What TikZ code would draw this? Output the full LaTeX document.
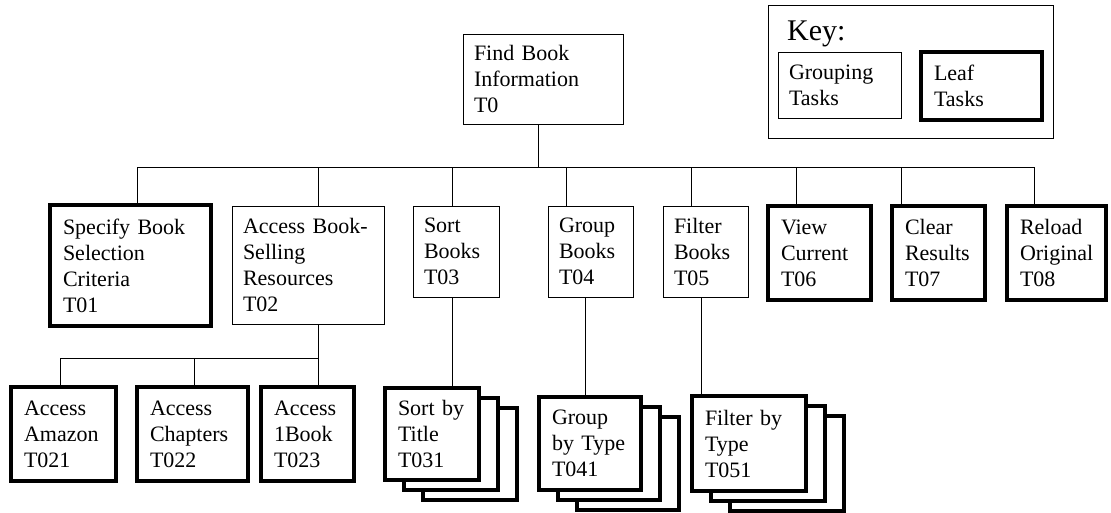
\documentclass[tikz,border=0pt]{standalone}
\usepackage{fontspec}
\setmainfont{Liberation Serif}
\hyphenpenalty=10000
\hbadness=10000
\hfuzz=2pt

\begin{document}
\begin{tikzpicture}[x=1pt,y=-1pt,
    group/.style={draw,line width=1pt,fill=white,align=left,inner xsep=11pt,inner ysep=3pt,
      font=\fontsize{22}{26}\selectfont},
    leaf/.style={group,line width=4pt,inner xsep=13pt},
    wire/.style={line width=1pt}]
  \useasboundingbox (0,0) rectangle (1111,512);

  % key
  \node[draw,line width=1pt,minimum width=285pt,minimum height=133pt] (key) at (910.5,71.5) {};
  \node[anchor=base west,inner sep=0pt,font=\fontsize{30}{36}\selectfont] (keytitle) at (787,40) {Key:};
  \node[group,text width=101pt,minimum height=66pt] (keygroup) at (839.5,85) {Grouping\\Tasks};
  \node[leaf,text width=95pt,minimum height=68pt] (keyleaf) at (981.5,86) {Leaf\\Tasks};

  % top task
  \node[group,text width=138pt,minimum height=90pt] (T0) at (543,79) {Find Book\\Information\\T0};

  % first level
  \node[leaf,text width=135pt,minimum height=121pt] (T01) at (130.5,265.5) {Specify Book\\Selection\\Criteria\\T01};
  \node[group,text width=130pt,minimum height=118pt] (T02) at (308,265) {Access Book-\\Selling\\Resources\\T02};
  \node[group,text width=64pt,minimum height=91pt] (T03) at (456,251.5) {Sort\\Books\\T03};
  \node[group,text width=63pt,minimum height=91pt] (T04) at (590.5,251.5) {Group\\Books\\T04};
  \node[group,text width=63pt,minimum height=91pt] (T05) at (705.5,251.5) {Filter\\Books\\T05};
  \node[leaf,text width=77pt,minimum height=94pt] (T06) at (819.5,253) {View\\Current\\T06};
  \node[leaf,text width=67pt,minimum height=94pt] (T07) at (938.5,253) {Clear\\Results\\T07};
  \node[leaf,text width=73pt,minimum height=94pt] (T08) at (1056.5,253) {Reload\\Original\\T08};

  % second level
  \node[leaf,text width=79pt,minimum height=94pt] (T021) at (63.5,434) {Access\\Amazon\\T021};
  \node[leaf,text width=85pt,minimum height=94pt] (T022) at (192.5,434) {Access\\Chapters\\T022};
  \node[leaf,text width=67pt,minimum height=94pt] (T023) at (307.5,434) {Access\\1Book\\T023};

  \node[leaf,text width=68pt,minimum height=92pt] (T031c) at (470,454) {};
  \node[leaf,text width=68pt,minimum height=92pt] (T031b) at (451,444) {};
  \node[leaf,text width=68pt,minimum height=92pt] (T031) at (432,434) {Sort by\\Title\\T031};

  \node[leaf,text width=76pt,minimum height=93pt] (T041c) at (628,463.5) {};
  \node[leaf,text width=76pt,minimum height=93pt] (T041b) at (609,453.5) {};
  \node[leaf,text width=76pt,minimum height=93pt] (T041) at (590,443.5) {Group\\by Type\\T041};

  \node[leaf,text width=88pt,minimum height=95pt] (T051c) at (787,463.5) {};
  \node[leaf,text width=88pt,minimum height=95pt] (T051b) at (768,453.5) {};
  \node[leaf,text width=88pt,minimum height=95pt] (T051) at (749,443.5) {Filter by\\Type\\T051};

  % tree lines
  \coordinate (s0) at (538,167);
  \coordinate (s01) at (137,167);
  \coordinate (s02) at (318,167);
  \coordinate (s03) at (452,167);
  \coordinate (s04) at (566,167);
  \coordinate (s05) at (691,167);
  \coordinate (s06) at (796,167);
  \coordinate (s07) at (901,167);
  \coordinate (s08) at (1034,167);
  \draw[wire] (s0 |- T0.south) -- (s0);
  \draw[wire] (s01) -- (s08);
  \draw[wire] (s01) -- (s01 |- T01.north);
  \draw[wire] (s02) -- (s02 |- T02.north);
  \draw[wire] (s03) -- (s03 |- T03.north);
  \draw[wire] (s04) -- (s04 |- T04.north);
  \draw[wire] (s05) -- (s05 |- T05.north);
  \draw[wire] (s06) -- (s06 |- T06.north);
  \draw[wire] (s07) -- (s07 |- T07.north);
  \draw[wire] (s08) -- (s08 |- T08.north);

  \coordinate (b02) at (318,358);
  \coordinate (b021) at (60,358);
  \coordinate (b022) at (194,358);
  \draw[wire] (b02 |- T02.south) -- (b02);
  \draw[wire] (b021) -- (b02);
  \draw[wire] (b021) -- (b021 |- T021.north);
  \draw[wire] (b022) -- (b022 |- T022.north);
  \draw[wire] (b02) -- (b02 |- T023.north);

  \coordinate (b03) at (452,340);
  \coordinate (b04) at (585,340);
  \coordinate (b05) at (701,340);
  \draw[wire] (b03 |- T03.south) -- (b03 |- T031.north);
  \draw[wire] (b04 |- T04.south) -- (b04 |- T041.north);
  \draw[wire] (b05 |- T05.south) -- (b05 |- T051.north);
\end{tikzpicture}
\end{document}
